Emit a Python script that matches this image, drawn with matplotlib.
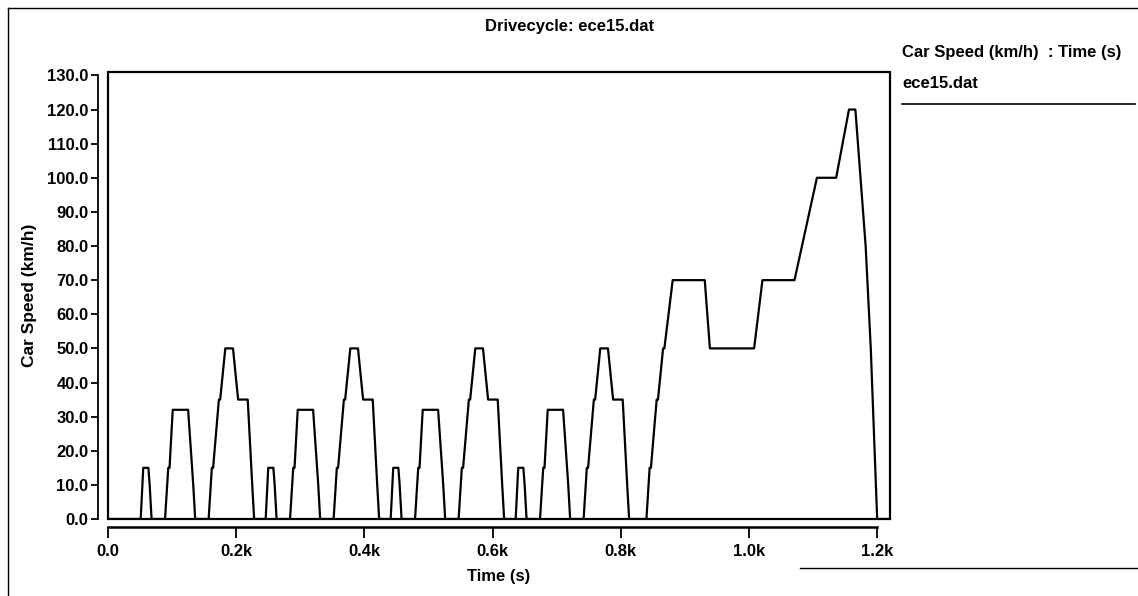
import numpy as np
import matplotlib
matplotlib.use("Agg")
import matplotlib.pyplot as plt
from matplotlib.lines import Line2D
from matplotlib.patches import Rectangle

plt.rcParams['font.family'] = ['Liberation Sans', 'DejaVu Sans']
plt.rcParams['font.weight'] = 'bold'

# warm-up idle before the first urban cycle (s)
start_idle = 40

# one ECE-15 urban cycle: breakpoints (s, km/h)
ece_t = [0, 11, 15, 23, 25, 28, 49, 54, 56, 61, 85, 93, 96, 117, 122, 124,
         133, 135, 143, 155, 163, 176, 178, 185, 188, 195]
ece_v = [0, 0, 15, 15, 10, 0, 0, 15, 15, 32, 32, 10, 0, 0, 15, 15,
         35, 35, 50, 50, 35, 35, 35, 10, 0, 0]
n_ece = 4

# extra-urban cycle: breakpoints (s, km/h)
eudc_t = [0, 20, 25, 27, 36, 38, 46, 48, 61, 111, 119, 188, 201, 251, 286,
          316, 336, 346, 362, 370, 380, 400]
eudc_v = [0, 0, 15, 15, 35, 35, 50, 50, 70, 70, 50, 50, 70, 70, 100,
          100, 120, 120, 80, 50, 0, 0]

x_ticks = [0, 200, 400, 600, 800, 1000, 1200]
x_labels = ["0.0", "0.2k", "0.4k", "0.6k", "0.8k", "1.0k", "1.2k"]
y_ticks = list(range(0, 131, 10))
y_labels = ["%.1f" % v for v in y_ticks]

# build the full trace
tim = [0]
spd = [0]
off = start_idle
for i in range(n_ece):
    tim += [off + t for t in ece_t]
    spd += ece_v
    off += ece_t[-1]
tim += [off + t for t in eudc_t]
spd += eudc_v

fig = plt.figure(figsize=(11.38, 5.96), dpi=100)
W, H = 1138, 596
fs = 12

ax = fig.add_axes([108 / W, 1 - 519 / H, (890 - 108) / W, (519 - 72) / H])
ax.plot(tim, spd, color="black", lw=1.6)
ax.set_xlim(0, 1220)
ax.set_ylim(0, 131)

for s in ["top", "right"]:
    ax.spines[s].set_visible(False)
ax.add_patch(Rectangle((0, 0), 1, 1, transform=ax.transAxes, fill=False,
                       lw=1.6, ec="black", clip_on=False, zorder=5))
ax.spines["left"].set_position(("outward", 7))
ax.spines["bottom"].set_position(("outward", 6))
ax.spines["left"].set_linewidth(1.3)
ax.spines["bottom"].set_linewidth(1.8)
ax.spines["bottom"].set_bounds(0, 1200)
ax.spines["left"].set_bounds(0, 130)

ax.set_xticks(x_ticks)
ax.set_xticklabels(x_labels)
ax.set_yticks(y_ticks)
ax.set_yticklabels(y_labels)
ax.tick_params(axis="x", direction="out", length=8, width=1.3,
               labelsize=fs, colors="black", pad=4)
ax.tick_params(axis="y", direction="out", length=5, width=1.3,
               labelsize=fs, colors="black", pad=2)
for lab in ax.get_xticklabels() + ax.get_yticklabels():
    lab.set_fontweight("bold")

ax.set_xlabel("Time (s)", fontsize=fs, fontweight="bold", labelpad=7)
ax.set_ylabel("Car Speed (km/h)", fontsize=12.5, fontweight="bold", labelpad=7)

# title and legend text
fig.text(570 / W, 1 - 27 / H, "Drivecycle: ece15.dat", ha="center", va="center",
         fontsize=fs, fontweight="bold")
fig.text(902 / W, 1 - 52 / H, "Car Speed (km/h)  : Time (s)", ha="left", va="center",
         fontsize=fs, fontweight="bold")
fig.text(902 / W, 1 - 84 / H, "ece15.dat", ha="left", va="center",
         fontsize=fs, fontweight="bold")
fig.add_artist(Line2D([902 / W, 1135 / W], [1 - 104 / H, 1 - 104 / H],
                      transform=fig.transFigure, color="black", lw=1.2))

# page border from the scan
fig.add_artist(Line2D([8 / W, 1], [1 - 8 / H, 1 - 8 / H],
                      transform=fig.transFigure, color="black", lw=1.0))
fig.add_artist(Line2D([8 / W, 8 / W], [1 - 8 / H, 0],
                      transform=fig.transFigure, color="black", lw=1.0))
fig.add_artist(Line2D([800 / W, 1], [1 - 568 / H, 1 - 568 / H],
                      transform=fig.transFigure, color="black", lw=1.0))

fig.savefig("out.png", dpi=100)
